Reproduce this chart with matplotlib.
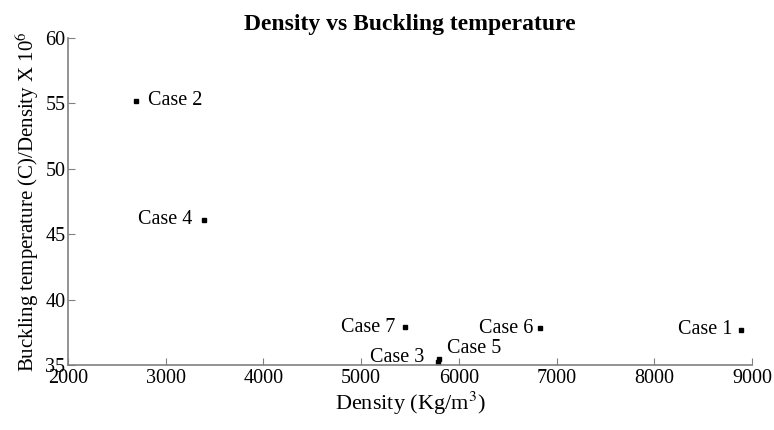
import matplotlib.pyplot as plt

# density (kg/m3) and buckling temperature / density x 1e6
cases = ['Case 1', 'Case 2', 'Case 3', 'Case 4', 'Case 5', 'Case 6', 'Case 7']
density = [8890, 2700, 5790, 3390, 5800, 6830, 5450]
buckling = [37.7, 55.2, 35.2, 46.1, 35.5, 37.8, 37.9]

# label offsets in pixels, and alignment
offsets = {'Case 1': (-9, 0, 'right'), 'Case 2': (12, 0, 'left'),
           'Case 3': (-14, 5, 'right'), 'Case 4': (-11, 0, 'right'),
           'Case 5': (8, 10, 'left'), 'Case 6': (-7, 0, 'right'),
           'Case 7': (-10, 0, 'right')}

plt.rcParams['font.family'] = ['Liberation Serif', 'DejaVu Serif']
plt.rcParams['mathtext.fontset'] = 'stix'

fig = plt.figure(figsize=(7.74, 4.30), dpi=100)
ax = fig.add_axes([0.0879, 0.151, 0.8837, 0.7606])

ax.plot(density, buckling, 's', color='black', markersize=3.2, clip_on=False)
for nome, x, y in zip(cases, density, buckling):
    dx, dy, ha = offsets[nome]
    ax.annotate(nome, (x, y), xytext=(dx, dy), textcoords='offset pixels',
                ha=ha, va='center', fontsize=14.5)

ax.set_xlim(2000, 9000)
ax.set_ylim(35, 60)
ax.set_xticks(range(2000, 9001, 1000))
ax.set_yticks(range(35, 61, 5))
ax.tick_params(direction='in', length=5, labelsize=14.5, color='#808080', pad=3)
ax.tick_params(axis='y', pad=2)
for side in ['top', 'right']:
    ax.spines[side].set_visible(False)
for side in ['left', 'bottom']:
    ax.spines[side].set_color('#808080')
    ax.spines[side].set_linewidth(1.2)

ax.set_title('Density vs Buckling temperature', fontsize=17, fontweight='bold', pad=6)
ax.set_xlabel('Density (Kg/m$^3$)', fontsize=16, labelpad=1)
ax.set_ylabel('Buckling temperature (C)/Density X 10$^6$', fontsize=15, labelpad=3)

fig.savefig('out.png', dpi=100)
